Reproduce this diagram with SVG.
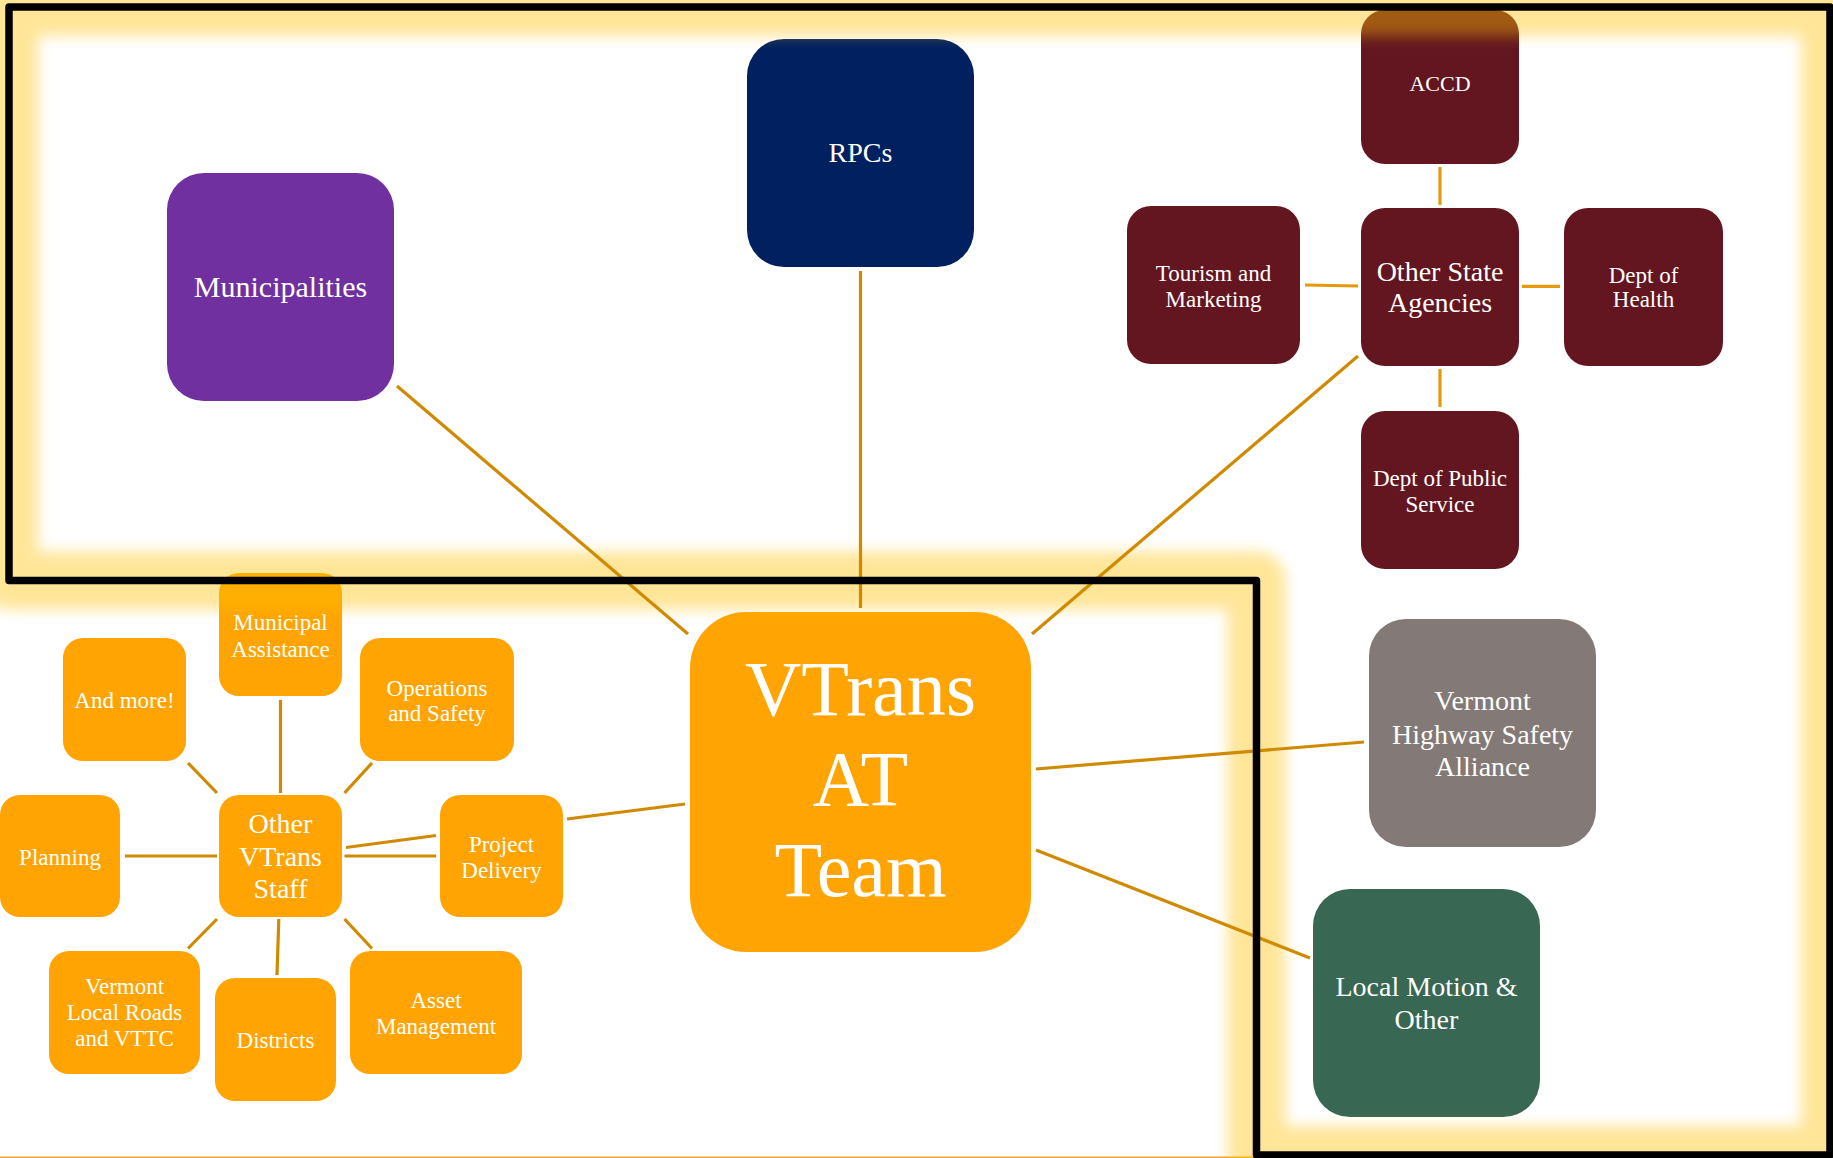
<svg xmlns="http://www.w3.org/2000/svg" width="1833" height="1158" viewBox="0 0 1833 1158">
<defs>
<style>
.t{font-family:"Liberation Serif","Times New Roman",serif;fill:#fff;text-anchor:middle}
.s{font-size:23px}
.m{font-size:28px}
.main{stroke:#D08A00;stroke-width:3.2;fill:none}
.cl{stroke:#E39A0C;stroke-width:3.2;fill:none}
.org{fill:#FFA402}
.mar{fill:#631620}
</style>
<filter id="glow" filterUnits="userSpaceOnUse" x="-200" y="-200" width="2300" height="1600">
<feGaussianBlur stdDeviation="7"/>
</filter>
</defs>
<rect x="0" y="0" width="1833" height="1158" fill="#fff"/>
<line x1="0" y1="1157.3" x2="1254" y2="1157.3" stroke="#F2A52A" stroke-width="1.6"/>

<g id="nodes">
<g id="municipalities"><rect x="167" y="173" width="227" height="228" rx="37" fill="#7030A0"/><text class="t" x="280.5" y="297" style="font-size:30px">Municipalities</text></g>
<g id="rpcs"><rect x="747" y="39" width="227" height="228" rx="37" fill="#002060"/><text class="t m" x="860.5" y="162">RPCs</text></g>
<g id="accd"><rect class="mar" x="1361" y="10" width="158" height="154" rx="24"/><text class="t" x="1440" y="91" style="font-size:22px">ACCD</text></g>
<g id="other-state-agencies"><rect class="mar" x="1361" y="208" width="158" height="158" rx="24"/><text class="t m" x="1440" y="281">Other State</text><text class="t m" x="1440" y="312">Agencies</text></g>
<g id="tourism"><rect class="mar" x="1127" y="206" width="173" height="158" rx="24"/><text class="t s" x="1213.5" y="280.5">Tourism and</text><text class="t s" x="1213.5" y="306.5">Marketing</text></g>
<g id="health"><rect class="mar" x="1564" y="208" width="159" height="158" rx="24"/><text class="t s" x="1643.5" y="282.5">Dept of</text><text class="t s" x="1643.5" y="307">Health</text></g>
<g id="public-service"><rect class="mar" x="1361" y="411" width="158" height="158" rx="24"/><text class="t s" x="1440" y="486">Dept of Public</text><text class="t s" x="1440" y="511.5">Service</text></g>
<g id="vtrans-at-team"><rect class="org" x="690" y="612" width="341" height="340" rx="56"/><text class="t" x="860.5" y="714.5" style="font-size:78px">VTrans</text><text class="t" x="860.5" y="804.5" style="font-size:78px">AT</text><text class="t" x="860.5" y="895.5" style="font-size:78px">Team</text></g>
<g id="vhsa"><rect x="1369" y="619" width="227" height="228" rx="37" fill="#837A77"/><text class="t m" x="1482.5" y="710">Vermont</text><text class="t m" x="1482.5" y="744">Highway Safety</text><text class="t m" x="1482.5" y="776">Alliance</text></g>
<g id="local-motion"><rect x="1313" y="889" width="227" height="228" rx="37" fill="#386753"/><text class="t m" x="1426.5" y="996">Local Motion &amp;</text><text class="t m" x="1426.5" y="1029">Other</text></g>
<g id="municipal-assistance"><rect class="org" x="219" y="573" width="123" height="123" rx="20"/><text class="t s" x="280.5" y="630">Municipal</text><text class="t s" x="280.5" y="656.5">Assistance</text></g>
<g id="and-more"><rect class="org" x="63" y="638" width="123" height="123" rx="20"/><text class="t s" x="124.5" y="708">And more!</text></g>
<g id="operations"><rect class="org" x="360" y="638" width="154" height="123" rx="20"/><text class="t s" x="437" y="695.5">Operations</text><text class="t s" x="437" y="720.5">and Safety</text></g>
<g id="planning"><rect class="org" x="0" y="795" width="120" height="122" rx="20"/><text class="t s" x="60" y="865">Planning</text></g>
<g id="other-vtrans-staff"><rect class="org" x="219" y="795" width="123" height="122" rx="20"/><text class="t m" x="280.5" y="832.5">Other</text><text class="t m" x="280.5" y="865.5">VTrans</text><text class="t m" x="280.5" y="897.5">Staff</text></g>
<g id="project-delivery"><rect class="org" x="440" y="795" width="123" height="122" rx="20"/><text class="t s" x="501.5" y="851.5">Project</text><text class="t s" x="501.5" y="877.5">Delivery</text></g>
<g id="local-roads"><rect class="org" x="49" y="951" width="151" height="123" rx="20"/><text class="t s" x="124.5" y="994">Vermont</text><text class="t s" x="124.5" y="1020">Local Roads</text><text class="t s" x="124.5" y="1046">and VTTC</text></g>
<g id="districts"><rect class="org" x="215" y="978" width="121" height="123" rx="20"/><text class="t s" x="275.5" y="1047.5">Districts</text></g>
<g id="asset-management"><rect class="org" x="350" y="951" width="172" height="123" rx="20"/><text class="t s" x="436" y="1008">Asset</text><text class="t s" x="436" y="1033.5">Management</text></g>
</g>

<g id="frame-glow" opacity="0.4">
<path d="M9,7 H1830 V1155 H1256.5 V580.5 H9 Z" fill="none" stroke="#FFC000" stroke-width="58" stroke-linejoin="round" filter="url(#glow)"/>
</g>

<g id="connectors">
<line class="main" x1="397" y1="386" x2="688" y2="634"/>
<line class="main" x1="860.5" y1="271" x2="860.5" y2="608"/>
<line class="main" x1="1358" y1="356" x2="1032" y2="634"/>
<line class="main" x1="1036" y1="769" x2="1364" y2="742"/>
<line class="main" x1="1036" y1="850" x2="1310" y2="958"/>
<line class="main" x1="567" y1="819" x2="685" y2="804"/>
<line class="cl" x1="1440" y1="167" x2="1440" y2="205"/>
<line class="cl" x1="1440" y1="369" x2="1440" y2="407"/>
<line class="cl" x1="1305" y1="285" x2="1358" y2="286"/>
<line class="cl" x1="1522" y1="286.3" x2="1560" y2="286.3"/>
<line class="main" x1="280.5" y1="700" x2="280.5" y2="793"/>
<line class="main" x1="188" y1="763" x2="217" y2="793"/>
<line class="main" x1="372" y1="763" x2="344.5" y2="793"/>
<line class="main" x1="125" y1="856" x2="217" y2="856"/>
<line class="main" x1="344.5" y1="856" x2="436" y2="856"/>
<line class="main" x1="346" y1="847.5" x2="436" y2="835.5"/>
<line class="main" x1="217" y1="919" x2="188" y2="948.5"/>
<line class="main" x1="278.8" y1="919" x2="277" y2="975"/>
<line class="main" x1="344.5" y1="919" x2="372" y2="948.5"/>
</g>

<g id="frame">
<path d="M9,7 H1830 V1155 H1256.5 V580.5 H9 Z" fill="none" stroke="#000" stroke-width="7.5" stroke-linejoin="round"/>
</g>
</svg>
